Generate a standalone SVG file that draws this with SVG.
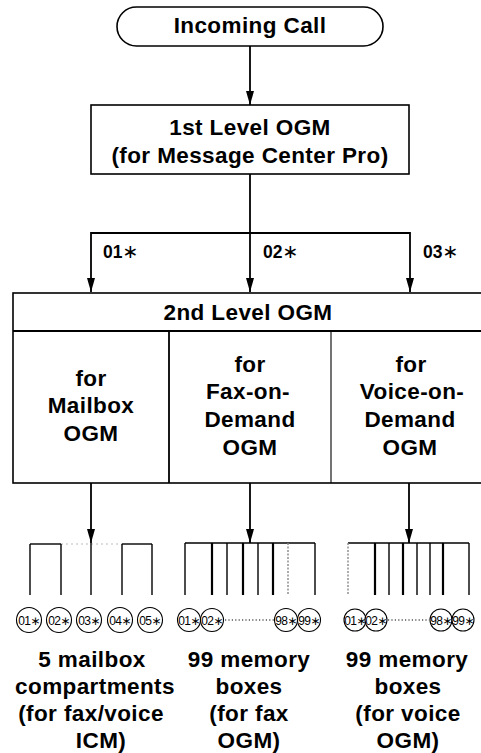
<svg xmlns="http://www.w3.org/2000/svg" width="481" height="753" viewBox="0 0 481 753">
<defs>
<marker id="ah" markerUnits="userSpaceOnUse" markerWidth="14" markerHeight="8" refX="14" refY="4" orient="auto">
<path d="M0,0 L14,4 L0,8 z" fill="#000"/>
</marker>
<style>
.b{fill:#fff;stroke:#000;stroke-width:1.6}
.t{font-family:"Liberation Sans",Arial,sans-serif;font-weight:bold;font-size:22.5px;letter-spacing:0.4px;text-anchor:middle;fill:#000}
.c{stroke:#000;stroke-width:1.8;fill:none}
.v{stroke:#000;stroke-width:1.4}
.vt{stroke:#000;stroke-width:2.2}
.vf{stroke:#888;stroke-width:1.4;stroke-dasharray:2 1.5}
.ci{fill:#fff;stroke:#000;stroke-width:1.1}
.ct{font-family:"Liberation Sans","DejaVu Sans",sans-serif;font-size:12px;letter-spacing:-0.6px;text-anchor:middle;fill:#000}
.dot{stroke:#000;stroke-width:1.2;stroke-dasharray:1.2 2.2}
.lab{font-family:"Liberation Sans",Arial,sans-serif;font-weight:bold;font-size:17.5px;fill:#000}
.ast{font-family:"DejaVu Sans",sans-serif;font-weight:normal;font-size:19px}
</style>
</defs>

<g id="incoming-call">
<rect class="b" x="117" y="7" width="266" height="39" rx="19.5"/>
<text class="t" x="250" y="33">Incoming Call</text>
</g>

<g id="level1">
<rect class="b" x="91" y="105" width="318" height="69"/>
<text class="t" x="250" y="135">1st Level OGM</text>
<text class="t" x="250" y="163">(for Message Center Pro)</text>
</g>

<g id="level2">
<rect class="b" x="13" y="293" width="470" height="190"/>
<line class="c" x1="13" y1="331" x2="483" y2="331"/>
<line class="c" x1="169" y1="331" x2="169" y2="483"/>
<line x1="331" y1="331" x2="331" y2="483" stroke="#000" stroke-width="1.1"/>
<text class="t" x="248" y="320">2nd Level OGM</text>
</g>

<g id="mailbox-ogm">
<text class="t" x="91" y="386">for</text>
<text class="t" x="91" y="413">Mailbox</text>
<text class="t" x="91" y="441">OGM</text>
</g>

<g id="fax-ogm">
<text class="t" x="250" y="372">for</text>
<text class="t" x="248" y="399">Fax-on-</text>
<text class="t" x="250" y="427">Demand</text>
<text class="t" x="250" y="455">OGM</text>
</g>

<g id="voice-ogm">
<text class="t" x="411" y="372">for</text>
<text class="t" x="412" y="399">Voice-on-</text>
<text class="t" x="410" y="427">Demand</text>
<text class="t" x="410" y="455">OGM</text>
</g>

<g id="connectors">
<line class="c" x1="250" y1="46" x2="250" y2="105" marker-end="url(#ah)"/>
<polyline class="c" points="250,174 250,233"/>
<polyline class="c" points="250,233 91,233 91,292" marker-end="url(#ah)"/>
<line class="c" x1="250" y1="233" x2="250" y2="292" marker-end="url(#ah)"/>
<polyline class="c" points="250,233 410,233 410,292" marker-end="url(#ah)"/>
<line class="c" x1="91" y1="483" x2="91" y2="543" marker-end="url(#ah)"/>
<line class="c" x1="250" y1="483" x2="250" y2="543" marker-end="url(#ah)"/>
<line class="c" x1="409" y1="483" x2="409" y2="543" marker-end="url(#ah)"/>
</g>

<g id="branch-labels">
<text class="lab" x="103" y="258">01<tspan class="ast">∗</tspan></text>
<text class="lab" x="263" y="258">02<tspan class="ast">∗</tspan></text>
<text class="lab" x="423" y="258">03<tspan class="ast">∗</tspan></text>
</g>

<g id="mailbox-compartments">
<line class="v" x1="30" y1="544" x2="61" y2="544"/>
<line x1="61" y1="544" x2="122" y2="544" stroke="#bbb" stroke-width="1" stroke-dasharray="2 3"/>
<line class="v" x1="122" y1="544" x2="152" y2="544"/>
<line class="v" x1="30" y1="544" x2="30" y2="595"/>
<line class="v" x1="61" y1="544" x2="61" y2="595"/>
<line class="v" x1="91" y1="543" x2="91" y2="595"/>
<line class="v" x1="122" y1="544" x2="122" y2="595"/>
<line class="v" x1="152" y1="544" x2="152" y2="595"/>
<circle class="ci" cx="29" cy="620" r="12.5"/><text class="ct" x="29" y="624.5">01∗</text>
<circle class="ci" cx="59" cy="620" r="12.5"/><text class="ct" x="59" y="624.5">02∗</text>
<circle class="ci" cx="89" cy="620" r="12.5"/><text class="ct" x="89" y="624.5">03∗</text>
<circle class="ci" cx="120" cy="620" r="12.5"/><text class="ct" x="120" y="624.5">04∗</text>
<circle class="ci" cx="150" cy="620" r="12.5"/><text class="ct" x="150" y="624.5">05∗</text>
<text class="t" x="92" y="667">5 mailbox</text>
<text class="t" x="95" y="694">compartments</text>
<text class="t" x="91" y="721">(for fax/voice</text>
<text class="t" x="101" y="748">ICM)</text>
</g>

<g id="fax-boxes">
<line class="v" x1="185" y1="543" x2="315" y2="543"/>
<line class="v" x1="185" y1="543" x2="185" y2="595"/>
<line class="vt" x1="212" y1="543" x2="212" y2="595"/>
<line class="v" x1="227" y1="543" x2="227" y2="595"/>
<line class="vt" x1="243" y1="543" x2="243" y2="595"/>
<line class="v" x1="258" y1="543" x2="258" y2="595"/>
<line class="vt" x1="273" y1="543" x2="273" y2="595"/>
<line class="vf" x1="288" y1="543" x2="288" y2="595"/>
<line class="v" x1="315" y1="543" x2="315" y2="595"/>
<circle class="ci" cx="189" cy="620" r="11.5"/><text class="ct" x="189" y="624.5">01∗</text>
<circle class="ci" cx="212" cy="620" r="11.5"/><text class="ct" x="212" y="624.5">02∗</text>
<line class="dot" x1="225" y1="620" x2="274" y2="620"/>
<circle class="ci" cx="286" cy="620" r="11.5"/><text class="ct" x="286" y="624.5">98∗</text>
<circle class="ci" cx="309" cy="620" r="11.5"/><text class="ct" x="309" y="624.5">99∗</text>
<text class="t" x="249" y="667">99 memory</text>
<text class="t" x="249" y="694">boxes</text>
<text class="t" x="249" y="721">(for fax</text>
<text class="t" x="249" y="748">OGM)</text>
</g>

<g id="voice-boxes">
<line class="v" x1="348" y1="543" x2="469" y2="543"/>
<line class="vf" x1="348" y1="543" x2="348" y2="595"/>
<line class="vt" x1="375" y1="543" x2="375" y2="595"/>
<line class="v" x1="389" y1="543" x2="389" y2="595"/>
<line class="vt" x1="403" y1="543" x2="403" y2="595"/>
<line class="v" x1="417" y1="543" x2="417" y2="595"/>
<line class="v" x1="430" y1="543" x2="430" y2="595"/>
<line class="vt" x1="443" y1="543" x2="443" y2="595"/>
<line class="v" x1="469" y1="543" x2="469" y2="595"/>
<circle class="ci" cx="355" cy="620" r="11"/><text class="ct" x="355" y="624.5">01∗</text>
<circle class="ci" cx="376" cy="620" r="11"/><text class="ct" x="376" y="624.5">02∗</text>
<line class="dot" x1="388" y1="620" x2="429" y2="620"/>
<circle class="ci" cx="441" cy="620" r="11"/><text class="ct" x="441" y="624.5">98∗</text>
<circle class="ci" cx="463" cy="620" r="11"/><text class="ct" x="463" y="624.5">99∗</text>
<text class="t" x="407" y="667">99 memory</text>
<text class="t" x="408" y="694">boxes</text>
<text class="t" x="408" y="721">(for voice</text>
<text class="t" x="408" y="748">OGM)</text>
</g>
</svg>
